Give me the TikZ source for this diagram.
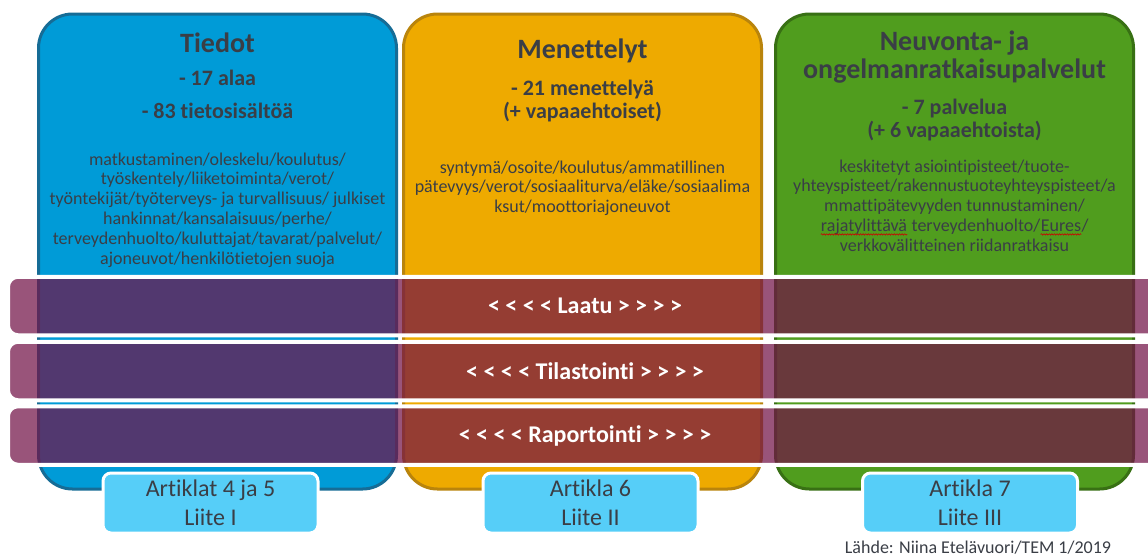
\documentclass[tikz,border=0pt]{standalone}
\usepackage{fontspec}
\setmainfont{Carlito}[Ligatures=NoCommon]
\usepackage{tikz}
\usetikzlibrary{positioning, decorations.pathmorphing}
\definecolor{tietoblue}{RGB}{0,155,215}
\definecolor{tietoblueD}{RGB}{22,108,150}
\definecolor{menorange}{RGB}{238,170,0}
\definecolor{menorangeD}{RGB}{185,132,12}
\definecolor{neugreen}{RGB}{80,157,30}
\definecolor{neugreenD}{RGB}{56,112,20}
\definecolor{bandpurple}{RGB}{115,19,72}
\definecolor{artcyan}{RGB}{86,206,248}
\definecolor{txtgray}{RGB}{58,62,70}
\tikzset{
  col/.style={rectangle, rounded corners=34pt, line width=3pt,
    minimum width=358pt, minimum height=475pt},
  ttl/.style={font=\fontsize{28}{28}\selectfont\bfseries, text=txtgray,
    inner sep=0pt, anchor=base, align=center},
  sub/.style={font=\fontsize{22}{22.5}\selectfont\bfseries, text=txtgray,
    inner sep=0pt, anchor=base, align=center},
  body/.style={font=\fontsize{18}{19.8}\selectfont, text=txtgray,
    inner sep=0pt, anchor=base, align=center},
  band/.style={rectangle, rounded corners=10pt, fill=bandpurple, fill opacity=0.72,
    text opacity=1, draw=white, line width=4pt, minimum width=1154pt,
    minimum height=58.5pt, font=\fontsize{24}{24}\selectfont\bfseries, text=white},
  art/.style={rectangle, rounded corners=8pt, fill=artcyan, draw=white, line width=3pt,
    minimum width=215pt, minimum height=60pt, font=\fontsize{24}{29}\selectfont,
    text=txtgray, align=center, inner sep=0pt},
  src/.style={font=\fontsize{18}{20}\selectfont, text=txtgray, inner sep=0pt, anchor=base}
}
% spell-check squiggle under a word
\newcommand{\squig}[1]{\tikz[baseline=(w.base)]{\node[inner sep=0pt] (w) {#1};
  \draw[red!80!black, line width=0.6pt, decorate,
    decoration={snake, amplitude=0.7pt, segment length=2.6pt}]
    ([yshift=-3pt]w.base west) -- ([yshift=-3pt]w.base east);}}

\begin{document}
\begin{tikzpicture}[x=1pt, y=-1pt]
  \clip (0,0) rectangle (1148,558);
  \fill[white] (0,0) rectangle (1148,558);

  % three columns
  \node[col, fill=tietoblue, draw=tietoblueD] (tiedot) at (217.5,251.5) {};
  \node[col, fill=menorange, draw=menorangeD] (menet) at (582.5,251.5) {};
  \node[col, fill=neugreen, draw=neugreenD] (neuvo) at (954.5,251.5) {};

  % base of a multi-line node = baseline of its last line
  \node[ttl] (tiedot-t) at (217.5,52) {Tiedot};
  \node[sub] (tiedot-s1) at (217.5,85) {- 17 alaa};
  \node[sub] (tiedot-s2) at (217.5,118) {- 83 tietosisältöä};
  \node[body] (tiedot-b) at (217.5,264) {matkustaminen/oleskelu/koulutus/\\
    työskentely/liiketoiminta/verot/\\
    työntekijät/työterveys- ja turvallisuus/ julkiset\\
    hankinnat/kansalaisuus/perhe/\\
    terveydenhuolto/kuluttajat/tavarat/palvelut/\\
    ajoneuvot/henkilötietojen suoja};

  \node[ttl] (menet-t) at (582.5,58) {Menettelyt};
  \node[sub] (menet-s) at (582.5,118) {- 21 menettelyä\\(+ vapaaehtoiset)};
  \node[body] (menet-b) at (582.5,212.6) {syntymä/osoite/koulutus/ammatillinen\\
    pätevyys/verot/sosiaaliturva/eläke/sosiaalima\\
    ksut/moottoriajoneuvot};

  \node[ttl] (neuvo-t) at (954.5,78) {Neuvonta- ja\\ongelmanratkaisupalvelut};
  \node[sub] (neuvo-s) at (954.5,137) {- 7 palvelua\\(+ 6 vapaaehtoista)};
  \node[body] (neuvo-b) at (954.5,251.2) {keskitetyt asiointipisteet/tuote-\\
    yhteyspisteet/rakennustuoteyhteyspisteet/a\\
    mmattipätevyyden tunnustaminen/\\
    \squig{rajatylittävä} terveydenhuolto/\squig{Eures}/\\
    verkkovälitteinen riidanratkaisu};

  % horizontal bands
  \node[band] (laatu) at (585,306) {< < < < Laatu > > > >};
  \node[band] (tilasto) at (585,371) {< < < < Tilastointi > > > >};
  \node[band] (raport) at (585,435.5) {< < < < Raportointi > > > >};

  % articles
  \node[art] (art45) at (210.5,503) {Artiklat 4 ja 5\\Liite I};
  \node[art] (art6) at (590.5,503) {Artikla 6\\Liite II};
  \node[art] (art7) at (970,503) {Artikla 7\\Liite III};

  \node[src] (lahde) at (978,553) {Lähde: Niina Etelävuori/TEM 1/2019};
\end{tikzpicture}
\end{document}
